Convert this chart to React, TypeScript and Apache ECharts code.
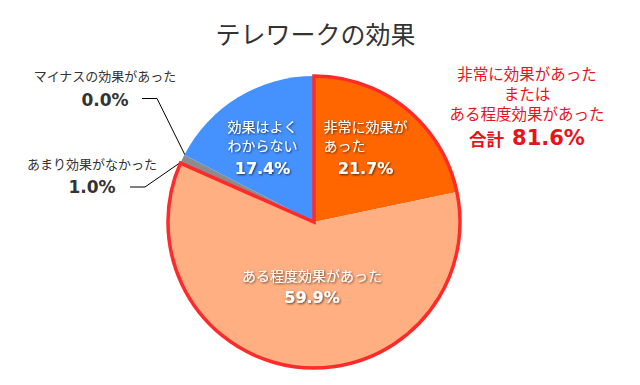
import React, { useEffect, useRef } from "react";
import * as echarts from "echarts";

const titleText = "テレワークの効果";
const categories = [
  "非常に効果があった",
  "ある程度効果があった",
  "あまり効果がなかった",
  "マイナスの効果があった",
  "効果はよくわからない",
];
const labelNames = [
  "非常に効果が\nあった",
  "ある程度効果があった",
  "あまり効果がなかった",
  "マイナスの効果があった",
  "効果はよく\nわからない",
];
const values = [21.7, 59.9, 1.0, 0.0, 17.4];
const sliceColors = ["#FF6600", "#FFAF82", "#8C8C8C", "#8C8C8C", "#4592FF"];
const summaryLines = ["非常に効果があった", "または", "ある程度効果があった"];
const summaryPrefix = "合計";

const JP = "'Noto Sans CJK JP', sans-serif";
const NUM = "'DejaVu Sans', sans-serif";

// label placement (layout only)
const labelPos = [
  { x: 365.5, y: 149 },
  { x: 312, y: 288 },
  { x: 92, y: 176 },
  { x: 105, y: 88.5 },
  { x: 262.5, y: 149 },
];
const guidePts: Record<number, number[][]> = {
  2: [[184, 160], [145, 187], [130, 187]],
  3: [[185, 155], [157, 98.5], [142, 98.5]],
};

export default function App() {
  const ref = useRef<HTMLDivElement>(null);
  useEffect(() => {
    if (!ref.current) return;
    const chart = echarts.init(ref.current, undefined, { renderer: "svg" });
    const center = [314, 222];
    const radius = 146;
    const shadow = {
      textShadowColor: "rgba(0,0,0,0.65)",
      textShadowBlur: 2,
      textShadowOffsetX: 1,
      textShadowOffsetY: 1,
    };
    const insideIdx = [0, 1, 4];
    const data = values.map((v, i) => {
      const inside = insideIdx.indexOf(i) >= 0;
      return {
        name: categories[i],
        value: v,
        itemStyle: { color: sliceColors[i], borderWidth: 0 },
        label: inside
          ? {
              position: "inside",
              formatter: `{n|${labelNames[i]}}\n{v|${v.toFixed(1)}%}`,
            }
          : {
              position: "outside",
              formatter: `{on|${labelNames[i]}}\n{ov|${v.toFixed(1)}%}`,
            },
        labelLine: { show: !inside },
      };
    });
    const total = values[0] + values[1];
    const rest = values.reduce((a, b) => a + b, 0) - total;

    chart.setOption({
      animation: false,
      backgroundColor: "#ffffff",
      graphic: [
        {
          type: "text",
          x: 315.5,
          y: 33,
          style: {
            text: titleText,
            align: "center",
            verticalAlign: "middle",
            fontSize: 25,
            fontFamily: JP,
            fill: "#333333",
          },
        },
        {
          type: "text",
          x: 527,
          y: 63,
          style: {
            text:
              summaryLines.map((s) => `{s|${s}}`).join("\n") +
              `\n{t|${summaryPrefix}  }{b|${total.toFixed(1)}%}`,
            align: "center",
            verticalAlign: "top",
            rich: {
              s: { fontSize: 15.5, lineHeight: 20, fill: "#E8141B", fontFamily: JP },
              t: { fontSize: 17.5, lineHeight: 30, fill: "#E8141B", fontFamily: JP, fontWeight: "bold" },
              b: { fontSize: 21, lineHeight: 30, fill: "#E8141B", fontFamily: NUM, fontWeight: "bold" },
            },
          },
        },
      ],
      series: [
        {
          type: "pie",
          center,
          radius,
          startAngle: 90,
          clockwise: true,
          avoidLabelOverlap: false,
          silent: true,
          emphasis: { disabled: true },
          label: {
            show: true,
            rich: {
              n: { color: "#fff", fontSize: 14, lineHeight: 19, fontFamily: JP, align: "left", ...shadow },
              v: { color: "#fff", fontSize: 16, lineHeight: 27, fontFamily: NUM, fontWeight: "bold", align: "center", ...shadow },
              on: { color: "#333", fontSize: 13, lineHeight: 22, fontFamily: JP },
              ov: { color: "#333", fontSize: 17, lineHeight: 26, fontFamily: NUM, fontWeight: "bold" },
            },
          },
          labelLine: { show: true, lineStyle: { color: "#000", width: 1 } },
          labelLayout: (params: any) => {
            const i = params.dataIndex;
            const p = labelPos[i];
            const r: any = { x: p.x, y: p.y, align: "center", verticalAlign: "middle" };
            if (guidePts[i]) r.labelLinePoints = guidePts[i];
            return r;
          },
          data,
        },
        {
          type: "pie",
          center,
          radius,
          startAngle: 90,
          clockwise: true,
          silent: true,
          emphasis: { disabled: true },
          label: { show: false },
          labelLine: { show: false },
          data: [
            {
              value: total,
              itemStyle: { color: "rgba(0,0,0,0)", borderColor: "#FF2A2A", borderWidth: 3.5, borderJoin: "miter" },
            },
            { value: rest, itemStyle: { color: "rgba(0,0,0,0)", borderWidth: 0 } },
          ],
        },
      ],
    });
    return () => chart.dispose();
  }, []);
  return (
    <div
      ref={ref}
      style={{ position: "fixed", left: 0, top: 0, width: 640, height: 385 }}
    />
  );
}
